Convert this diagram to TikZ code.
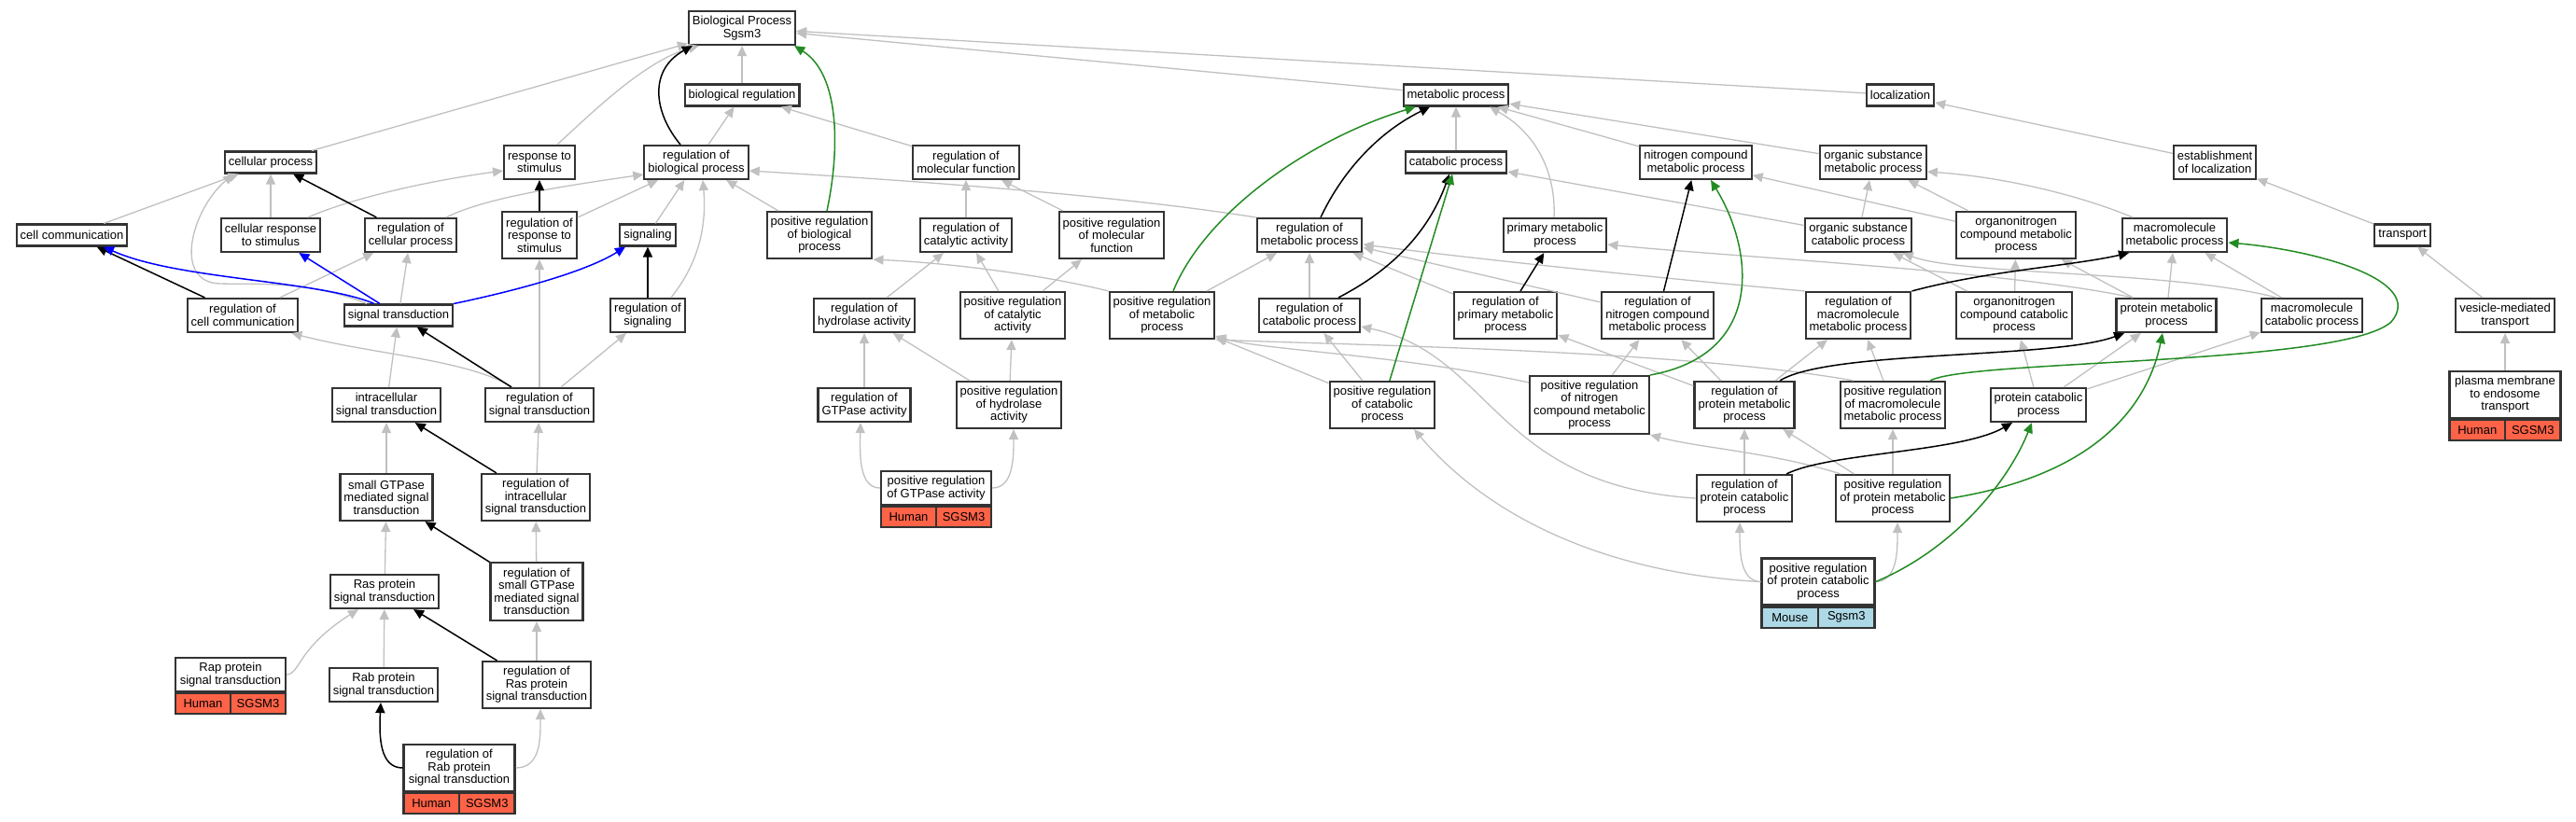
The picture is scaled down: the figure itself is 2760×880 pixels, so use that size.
\documentclass[tikz,border=0pt]{standalone}
\usepackage{fontspec}
\setmainfont{Liberation Sans}
\usetikzlibrary{arrows.meta,positioning}
\definecolor{isagrey}{RGB}{192,192,192}
\definecolor{posgreen}{RGB}{34,139,34}
\definecolor{humanred}{RGB}{255,99,71}
\definecolor{mouseblue}{RGB}{173,216,230}

\begin{document}
\begin{tikzpicture}[x=0.5pt, y=0.5pt,
  term/.style={draw=black!80, line width=1.05pt, fill=white, align=center, inner xsep=2pt, inner ysep=1pt, font=\fontsize{6.5}{6.7}\selectfont},
  one/.style={term, minimum height=11.5pt},
  two/.style={term, minimum height=18pt},
  three/.style={term, minimum height=25pt},
  four/.style={term, minimum height=31pt},
  human/.style={term, fill=humanred, minimum height=11pt, minimum width=#1},
  mouse/.style={term, fill=mouseblue, minimum height=11pt, minimum width=#1},
  isa/.style={draw=isagrey, line width=0.65pt, -{Triangle[length=5.5pt,width=5pt]}},
  regulates/.style={draw=black, line width=0.75pt, -{Triangle[length=5.5pt,width=5pt]}},
  posreg/.style={draw=posgreen, line width=0.75pt, -{Triangle[length=5.5pt,width=5pt]}},
  partof/.style={draw=blue, line width=0.75pt, -{Triangle[length=5.5pt,width=5pt]}}]
\useasboundingbox (0,0) rectangle (2760,-880);

\node[two] (bp) at (795,-30) {Biological Process\\Sgsm3};
\node[one] (bioreg) at (795,-102) {biological regulation};
\node[one] (metab) at (1560,-102) {metabolic process};
\node[one] (loc) at (2036,-102) {localization};

\node[one] (cellp) at (290,-174) {cellular process};
\node[two] (respstim) at (578,-174) {response to\\stimulus};
\node[two] (regbp) at (746,-174) {regulation of\\biological process};
\node[two] (regmf) at (1035,-174) {regulation of\\molecular function};
\node[one] (catab) at (1560,-174) {catabolic process};
\node[two] (nitro) at (1817,-174) {nitrogen compound\\metabolic process};
\node[two] (orgsub) at (2007,-174) {organic substance\\metabolic process};
\node[two] (estloc) at (2373,-174) {establishment\\of localization};

\node[one] (cellcomm) at (77,-252) {cell communication};
\node[two] (cellresp) at (290,-252) {cellular response\\to stimulus};
\node[two] (regcellp) at (440,-252) {regulation of\\cellular process};
\node[three] (regresp) at (578,-252) {regulation of\\response to\\stimulus};
\node[one] (signaling) at (694,-252) {signaling};
\node[three] (posregbp) at (878,-252) {positive regulation\\of biological\\process};
\node[two] (regcat) at (1035,-252) {regulation of\\catalytic activity};
\node[three] (posregmf) at (1191,-252) {positive regulation\\of molecular\\function};
\node[two] (regmetab) at (1403,-252) {regulation of\\metabolic process};
\node[two] (primetab) at (1666,-252) {primary metabolic\\process};
\node[two] (orgsubcat) at (1991,-252) {organic substance\\catabolic process};
\node[three] (orgnitro) at (2160,-252) {organonitrogen\\compound metabolic\\process};
\node[two] (macromet) at (2330,-252) {macromolecule\\metabolic process};
\node[one] (transport) at (2574,-252) {transport};

\node[two] (regcellcomm) at (260,-338) {regulation of\\cell communication};
\node[one] (sigtrans) at (427,-338) {signal transduction};
\node[two] (regsignaling) at (694,-338) {regulation of\\signaling};
\node[two] (reghydro) at (926,-338) {regulation of\\hydrolase activity};
\node[three] (posregcat) at (1085,-338) {positive regulation\\of catalytic\\activity};
\node[three] (posregmetab) at (1245,-338) {positive regulation\\of metabolic\\process};
\node[two] (regcatab) at (1403,-338) {regulation of\\catabolic process};
\node[three] (regprim) at (1613,-338) {regulation of\\primary metabolic\\process};
\node[three] (regnitro) at (1776,-338) {regulation of\\nitrogen compound\\metabolic process};
\node[three] (regmacro) at (1991,-338) {regulation of\\macromolecule\\metabolic process};
\node[three] (orgnitrocat) at (2158,-338) {organonitrogen\\compound catabolic\\process};
\node[two] (protmet) at (2321,-338) {protein metabolic\\process};
\node[two] (macrocat) at (2477,-338) {macromolecule\\catabolic process};
\node[two] (vesicle) at (2684,-338) {vesicle-mediated\\transport};

\node[two] (intrasig) at (414,-434) {intracellular\\signal transduction};
\node[two] (regsigtrans) at (578,-434) {regulation of\\signal transduction};
\node[two] (reggtpase) at (926,-434) {regulation of\\GTPase activity};
\node[three] (posreghydro) at (1081,-434) {positive regulation\\of hydrolase\\activity};
\node[three] (posregcatab) at (1481,-434) {positive regulation\\of catabolic\\process};
\node[four] (posregnitro) at (1703,-434) {positive regulation\\of nitrogen\\compound metabolic\\process};
\node[three] (regprotmet) at (1869,-434) {regulation of\\protein metabolic\\process};
\node[three] (posregmacro) at (2028,-434) {positive regulation\\of macromolecule\\metabolic process};
\node[two] (protcat) at (2184,-434) {protein catabolic\\process};
\node[three, minimum width=59.5pt] (pmendo) at (2684,-423) {plasma membrane\\to endosome\\transport};
\node[human=29.75pt, below right=0pt and 0pt of pmendo.south west] (pmendoA) {Human};
\node[human=29.75pt, below left=0pt and 0pt of pmendo.south east] (pmendoB) {SGSM3};

\node[three] (smallgtp) at (414,-533) {small GTPase\\mediated signal\\transduction};
\node[three] (regintra) at (574,-533) {regulation of\\intracellular\\signal transduction};
\node[two, minimum width=59pt] (posreggtp) at (1003,-523) {positive regulation\\of GTPase activity};
\node[human=29.5pt, below right=0pt and 0pt of posreggtp.south west] (posreggtpA) {Human};
\node[human=29.5pt, below left=0pt and 0pt of posreggtp.south east] (posreggtpB) {SGSM3};
\node[three] (regprotcat) at (1869,-534) {regulation of\\protein catabolic\\process};
\node[three] (posregprotmet) at (2028,-534) {positive regulation\\of protein metabolic\\process};

\node[two] (ras) at (412,-634) {Ras protein\\signal transduction};
\node[four] (regsmall) at (575,-634) {regulation of\\small GTPase\\mediated signal\\transduction};
\node[three, minimum width=60.5pt] (posregprotcat) at (1948,-623.5) {positive regulation\\of protein catabolic\\process};
\node[mouse=30.25pt, below right=0pt and 0pt of posregprotcat.south west] (posregprotcatA) {Mouse};
\node[mouse=30.25pt, below left=0pt and 0pt of posregprotcat.south east] (posregprotcatB) {Sgsm3};

\node[two, minimum width=59pt] (rap) at (247,-723) {Rap protein\\signal transduction};
\node[human=29.5pt, below right=0pt and 0pt of rap.south west] (rapA) {Human};
\node[human=29.5pt, below left=0pt and 0pt of rap.south east] (rapB) {SGSM3};
\node[two] (rab) at (411,-734) {Rab protein\\signal transduction};
\node[three] (regras) at (575,-734) {regulation of\\Ras protein\\signal transduction};
\node[three, minimum width=59.5pt] (regrab) at (492,-823) {regulation of\\Rab protein\\signal transduction};
\node[human=29.75pt, below right=0pt and 0pt of regrab.south west] (regrabA) {Human};
\node[human=29.75pt, below left=0pt and 0pt of regrab.south east] (regrabB) {SGSM3};

\draw[isa] (cellp) -- (bp);
\draw[isa] ([xshift=9.5pt]respstim.north) .. controls (630,-125) and (690,-65) .. ([xshift=6pt]bp.south west);
\draw[isa] (bioreg) -- (bp);
\draw[isa] (metab) -- (bp);
\draw[isa] (loc) -- (bp);
\draw[isa] (regbp) -- (bioreg);
\draw[isa] (regmf) -- (bioreg);
\draw[isa] (catab) -- (metab);
\draw[isa] ([xshift=-0.5pt]primetab.north) .. controls (1667,-190) and (1650,-145) .. ([xshift=18pt]metab.south);
\draw[isa] (nitro) -- (metab);
\draw[isa] (orgsub) -- (metab);
\draw[isa] (estloc) -- (loc);
\draw[isa] (cellcomm) -- (cellp);
\draw[isa] ([xshift=-17pt]sigtrans.north) .. controls (330,-300) and (270,-305) .. (235,-304) .. controls (185,-302) and (205,-225) .. ([xshift=-20pt]cellp.south);
\draw[isa] (cellresp) -- (cellp);
\draw[isa] ([xshift=20pt]cellresp.north) .. controls (370,-215) and (450,-195) .. ([yshift=-4.5pt]respstim.west);
\draw[isa] ([xshift=19pt]regcellp.north) .. controls (520,-212) and (600,-200) .. ([yshift=-6.5pt]regbp.west);
\draw[isa] (regresp) -- (regbp);
\draw[isa] (signaling) -- (regbp);
\draw[isa] ([xshift=12.5pt]regsignaling.north) .. controls (750,-280) and (757,-240) .. ([xshift=3.5pt]regbp.south);
\draw[isa] (posregbp) -- (regbp);
\draw[isa] (regmetab.north west) .. controls (1200,-210) and (1000,-195) .. ([yshift=-4.5pt]regbp.east);
\draw[isa] (regcat) -- (regmf);
\draw[isa] (posregmf) -- (regmf);
\draw[isa] (orgsubcat) -- (catab);
\draw[isa] (orgsubcat) -- (orgsub);
\draw[isa] (orgnitro) -- (orgsub);
\draw[isa] (orgnitro) -- (nitro);
\draw[isa] ([xshift=-22.5pt]macromet.north) .. controls (2230,-210) and (2150,-190) .. ([yshift=-5pt]orgsub.east);
\draw[isa] (transport) -- (estloc);
\draw[isa] (regcellcomm) -- (regcellp);
\draw[isa] (sigtrans) -- (regcellp);
\draw[isa] ([xshift=-14.5pt]regsigtrans.north) .. controls (500,-385) and (400,-380) .. ([xshift=-4pt]regcellcomm.south east);
\draw[isa] (intrasig) -- (sigtrans);
\draw[isa] (regsigtrans) -- (regresp);
\draw[isa] (regsigtrans) -- (regsignaling);
\draw[isa] (reghydro) -- (regcat);
\draw[isa] (posregcat) -- (regcat);
\draw[isa] (posregcat) -- (posregmf);
\draw[isa] (posregmetab.north west) .. controls (1120,-295) and (1020,-282) .. (posregbp.south east);
\draw[isa] (posregmetab) -- (regmetab);
\draw[isa] (regcatab) -- (regmetab);
\draw[isa] (regprim) -- (regmetab);
\draw[isa] (regnitro) -- (regmetab);
\draw[isa] (regmacro.north west) .. controls (1800,-300) and (1600,-280) .. ([yshift=-5pt]regmetab.east);
\draw[isa] ([xshift=-18pt]protmet.north) .. controls (2150,-290) and (1850,-275) .. ([yshift=-5pt]primetab.east);
\draw[isa] (orgnitrocat) -- (orgsubcat);
\draw[isa] ([xshift=-19pt]macrocat.north) .. controls (2330,-290) and (2100,-295) .. ([xshift=-5pt]orgsubcat.south east);
\draw[isa] (orgnitrocat) -- (orgnitro);
\draw[isa] (protmet) -- (orgnitro);
\draw[isa] (protmet) -- (macromet);
\draw[isa] (macrocat) -- (macromet);
\draw[isa] (vesicle) -- (transport);
\draw[isa] (reggtpase) -- (reghydro);
\draw[isa] (posreghydro) -- (reghydro);
\draw[isa] (posreghydro) -- (posregcat);
\draw[isa] (posregcatab) -- (regcatab);
\draw[isa] (posregcatab) -- (posregmetab);
\draw[isa] ([yshift=-4pt]posregnitro.north west) .. controls (1500,-380) and (1350,-375) .. ([yshift=2pt]posregmetab.south east);
\draw[isa] ([xshift=-21pt]posregmacro.north) .. controls (1800,-375) and (1450,-370) .. (posregmetab.south east);
\draw[isa] (posregnitro) -- (regnitro);
\draw[isa] (regprotmet) -- (regprim);
\draw[isa] (regprotmet) -- (regnitro);
\draw[isa] (regprotmet) -- (regmacro);
\draw[isa] (posregmacro) -- (regmacro);
\draw[isa] (protcat) -- (protmet);
\draw[isa] (protcat) -- (orgnitrocat);
\draw[isa] (protcat) -- (macrocat);
\draw[isa] (pmendo) -- (vesicle);
\draw[isa] (smallgtp) -- (intrasig);
\draw[isa] (regintra) -- (regsigtrans);
\draw[isa] (posreggtp.west) .. controls (921,-523) and (921,-490) .. ([xshift=-2pt]reggtpase.south);
\draw[isa] (posreggtp.east) .. controls (1086,-523) and (1086,-490) .. ([xshift=2.5pt]posreghydro.south);
\draw[isa] (regprotcat) -- (regprotmet);
\draw[isa] (regprotcat.west) .. controls (1600,-520) and (1600,-380) .. ([yshift=-6pt]regcatab.east);
\draw[isa] (posregprotmet) -- (regprotmet);
\draw[isa] (posregprotmet) -- (posregmacro);
\draw[isa] ([xshift=-28pt]posregprotmet.north) .. controls (1900,-485) and (1820,-480) .. (posregnitro.south east);
\draw[isa] (ras) -- (smallgtp);
\draw[isa] (regsmall) -- (regintra);
\draw[isa] (posregprotcat.west) .. controls (1864,-623) and (1864,-590) .. ([xshift=-2.5pt]regprotcat.south);
\draw[isa] (posregprotcat.east) .. controls (2033,-623) and (2033,-590) .. ([xshift=2.5pt]posregprotmet.south);
\draw[isa] (posregprotcat.west) .. controls (1730,-615) and (1600,-560) .. ([xshift=17pt]posregcatab.south);
\draw[isa] (rap.east) .. controls (322,-722) and (318,-695) .. ([xshift=-14pt]ras.south);
\draw[isa] (rab) -- (ras);
\draw[isa] (regras) -- (regsmall);
\draw[isa] (regrab.east) .. controls (580,-823) and (579,-790) .. ([xshift=2pt]regras.south);

\draw[regulates] ([xshift=-8.5pt]regbp.north) .. controls (700,-120) and (695,-75) .. ([xshift=2.5pt]bp.south west);
\draw[regulates] ([xshift=6pt]regmetab.north) .. controls (1440,-180) and (1480,-140) .. ([xshift=-14pt]metab.south);
\draw[regulates] (regcellp) -- (cellp);
\draw[regulates] (regresp) -- (respstim);
\draw[regulates] ([xshift=15.5pt]regcatab.north) .. controls (1490,-290) and (1530,-250) .. ([xshift=-3.5pt]catab.south);
\draw[regulates] (regnitro) -- (nitro);
\draw[regulates] (regcellcomm) -- (cellcomm);
\draw[regulates] (regsignaling) -- (signaling);
\draw[regulates] (regsigtrans) -- (sigtrans);
\draw[regulates] (regprim) -- (primetab);
\draw[regulates] (regmacro.north east) .. controls (2130,-290) and (2220,-285) .. ([xshift=-24.5pt]macromet.south);
\draw[regulates] ([xshift=19pt]regprotmet.north) .. controls (1960,-375) and (2200,-385) .. ([xshift=-22.5pt]protmet.south);
\draw[regulates] ([xshift=22.5pt]regprotcat.north) .. controls (1960,-485) and (2100,-485) .. ([xshift=-14pt]protcat.south);
\draw[regulates] (regintra) -- (intrasig);
\draw[regulates] (regsmall) -- (smallgtp);
\draw[regulates] (regras) -- (ras);
\draw[regulates] (regrab.west) .. controls (407,-823) and (406,-790) .. ([xshift=-1.5pt]rab.south);

\draw[posreg] ([xshift=4pt]posregbp.north) .. controls (900,-160) and (900,-80) .. ([xshift=-1pt]bp.south east);
\draw[posreg] ([xshift=6pt]posregmetab.north) .. controls (1290,-230) and (1400,-150) .. ([xshift=7pt]metab.south west);
\draw[posreg] (posregcatab) -- (catab);
\draw[posreg] (posregnitro.north east) .. controls (1890,-380) and (1880,-270) .. ([xshift=8pt]nitro.south);
\draw[posreg] ([xshift=20pt]posregmacro.north) .. controls (2110,-385) and (2510,-392) .. (2562,-345) .. controls (2600,-300) and (2480,-268) .. ([yshift=-4pt]macromet.east);
\draw[posreg] (posregprotmet.east) .. controls (2240,-510) and (2300,-440) .. ([xshift=-2pt]protmet.south);
\draw[posreg] (posregprotcat.east) .. controls (2090,-590) and (2150,-520) .. ([xshift=-3.5pt]protcat.south);

\draw[partof] ([xshift=-13pt]sigtrans.north) .. controls (340,-300) and (190,-300) .. ([xshift=17pt]cellcomm.south);
\draw[partof] (sigtrans) -- (cellresp);
\draw[partof] (sigtrans.north east) .. controls (560,-310) and (630,-290) .. ([xshift=-12pt]signaling.south);
\end{tikzpicture}
\end{document}
